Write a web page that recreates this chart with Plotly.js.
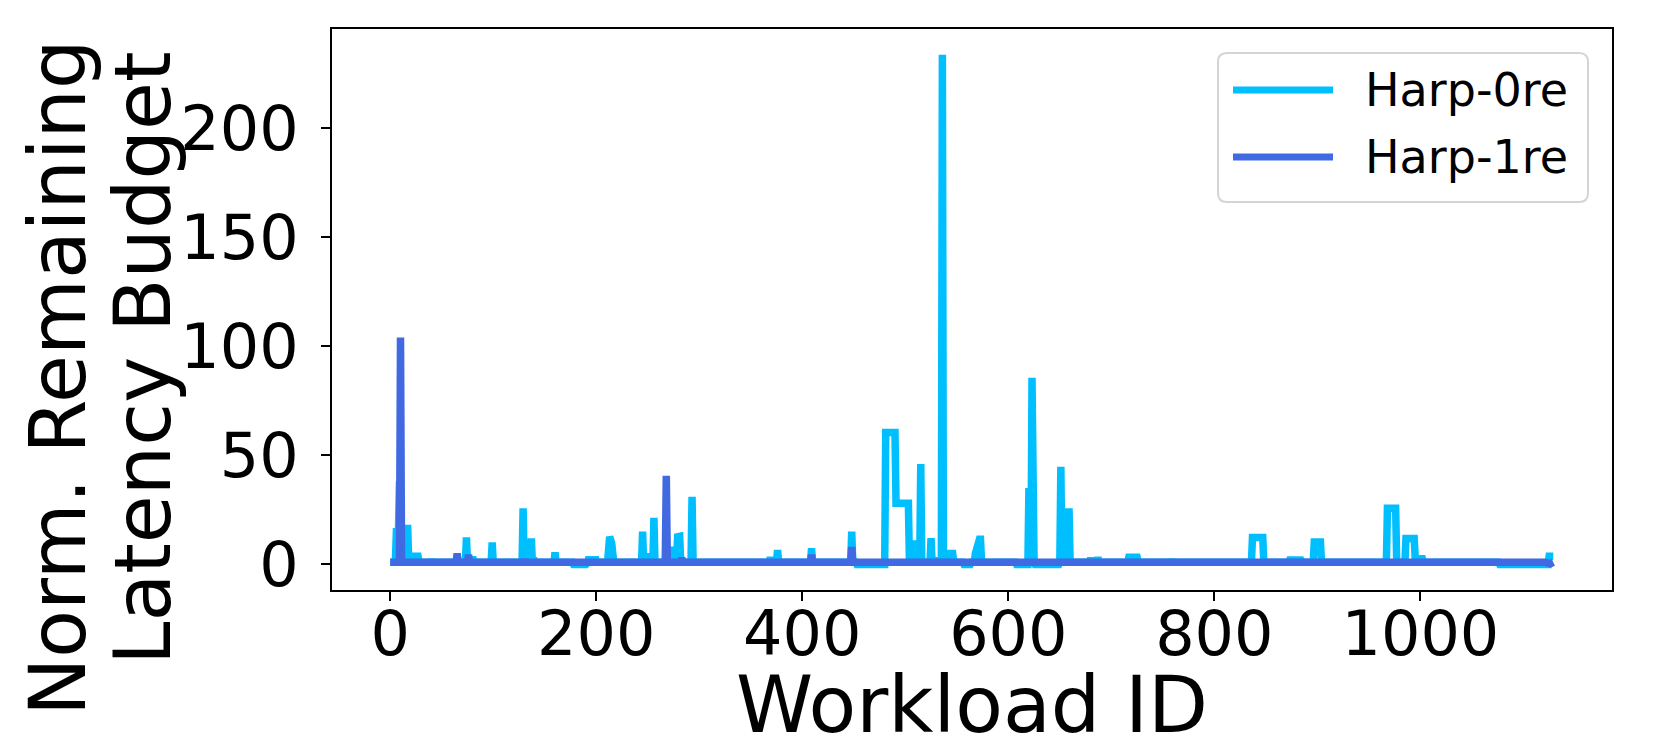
<!DOCTYPE html>
<html>
<head>
<meta charset="utf-8">
<script src="https://cdn.plot.ly/plotly-3.0.1.min.js"></script>
<style>
  html, body { margin: 0; padding: 0; background: #fff; }
  #chart { width: 1661px; height: 738px; }
</style>
</head>
<body>
<div id="chart"></div>
<script>
// ---- Data (vertices) ----
const seriesNames = ["Harp-0re", "Harp-1re"];

const harp0X = [0, 5, 6, 8, 9, 10, 17, 18,
  23, 24, 27, 28, 39, 40, 41, 73, 74, 75, 79, 80, 81, 88, 89, 90, 98, 99, 100,
  128, 129, 130, 136, 137, 138, 139, 140, 159, 160, 161, 172, 173, 174,
  177, 178, 190, 192, 193, 194, 198, 199, 200, 209, 210, 211, 213, 215, 217,
  224, 225, 226, 244, 245, 246, 249, 250, 251, 255, 256, 257,
  274, 275, 276, 277, 278, 279, 281, 282, 290, 291, 292, 293, 294,
  368, 369, 370, 375, 376, 377, 408, 409, 410, 411, 412, 432, 433, 434, 447, 448, 449,
  452, 453, 480, 481, 490, 491, 503, 504, 509, 510, 511, 514, 515, 516,
  524, 525, 526, 529, 530, 531, 535, 536, 537, 540, 541, 546, 547,
  556, 557, 563, 564, 567, 568, 572, 573, 574, 575, 576, 600, 601, 602,
  607, 608, 619, 620, 621, 622, 623, 624, 625, 626, 649, 650, 651, 652, 655, 656, 659, 660,
  679, 680, 681, 686, 687, 688, 716, 717, 725, 726, 758, 759, 760,
  836, 837, 847, 848, 872, 873, 884, 885, 896, 897, 903, 904,
  967, 968, 976, 977, 985, 986, 994, 995, 1002, 1003,
  1076, 1077, 1119, 1124, 1125, 1129];

const harp0Y = [1, 1, 15, 15, 38, 16.5, 16.5, 1,
  1, 3.8, 3.8, 1, 1, 2.3, 1, 1, 12.4, 1, 1, 3.5, 1, 1, 2, 1, 1, 10.1, 1,
  1, 25.7, 1, 1, 11.9, 1, 3, 1, 1, 5.5, 1, 1, 0, 1,
  1, 0, 0, 1, 3.5, 1, 1, 3.5, 1, 1, 0, 1, 12.7, 9.7, 1,
  1, 2, 1, 1, 15, 1, 1, 5, 1, 1, 21.4, 1,
  1, 8.1, 1, 0, 1, 12.7, 12.9, 1, 1, 0, 1, 31, 1,
  1, 3.3, 1, 1, 6.6, 1, 1, 7.4, 1, 0, 1, 1, 2, 1, 1, 15, 1,
  1, 0, 0, 60.5, 60.5, 28, 28, 1, 1, 11, 1, 1, 46, 1,
  1, 12, 1, 1, 3, 1, 1, 233.5, 1, 1, 5, 5, 1,
  1, 0, 0, 1, 1, 5, 11.5, 11.5, 1, 0, 1, 1, 0, 1,
  1, 0, 0, 35, 1, 1, 85.5, 1, 1, 0, 0, 1, 44.8, 1, 1, 24, 24, 1,
  1, 3, 1, 1, 3.3, 1, 1, 3.3, 3.3, 1, 1, 2.3, 1,
  1, 12.4, 12.4, 1, 1, 2, 2, 1, 1, 10.3, 10.3, 1,
  1, 25.7, 25.7, 1, 1, 11.9, 11.9, 2.6, 2.6, 1,
  1, 0, 0, 0, 3.8, 3.8];

const harp1X = [0, 9, 10, 11, 64, 65, 66, 75, 76, 77, 129, 130, 131,
  191, 192, 193, 267, 268, 269, 282, 283, 284, 368, 369, 370,
  408, 409, 410, 447, 448, 449, 1121, 1123, 1126, 1129];

const harp1Y = [1, 1, 104, 1, 1, 5, 1, 1, 4.5, 1, 1, 2.3, 1,
  1, 0, 1, 1, 40.6, 1, 1, 3, 1, 1, 2, 1,
  1, 4.4, 1, 1, 8, 1, 1, 0.3, 0.3, 1];

const xTickVals = [0, 200, 400, 600, 800, 1000];
const yTickVals = [0, 50, 100, 150, 200];
const xTitle = "Workload ID";
const yTitleLines = ["Norm. Remaining", "Latency Budget"];
const colors = ["#00BFFF", "#4169E1"];

// ---- Plot geometry helpers (pixels -> paper) ----
const L = 332, R = 1612, T = 29, B = 590;
const W = R - L, H = B - T;
const px = v => (v - L) / W;
const py = v => (B - v) / H;

const FONT = "DejaVu Sans, Verdana, sans-serif";

const traces = [
  { x: harp0X, y: harp0Y, name: seriesNames[0], type: "scatter", mode: "lines",
    line: { color: colors[0], width: 7.5 }, showlegend: false, hoverinfo: "x+y" },
  { x: harp1X, y: harp1Y, name: seriesNames[1], type: "scatter", mode: "lines",
    line: { color: colors[1], width: 7.5 }, showlegend: false, hoverinfo: "x+y" }
];

// legend box (rounded) in paper coords
const lx0 = px(1218), lx1 = px(1588), ly0 = py(202), ly1 = py(53);
const rx = 9 / W, ry = 9 / H;
const legendPath =
  `M ${lx0 + rx},${ly1} L ${lx1 - rx},${ly1} Q ${lx1},${ly1} ${lx1},${ly1 - ry} ` +
  `L ${lx1},${ly0 + ry} Q ${lx1},${ly0} ${lx1 - rx},${ly0} ` +
  `L ${lx0 + rx},${ly0} Q ${lx0},${ly0} ${lx0},${ly0 + ry} ` +
  `L ${lx0},${ly1 - ry} Q ${lx0},${ly1} ${lx0 + rx},${ly1} Z`;

const legendRows = [90, 157];

const shapes = [
  { type: "path", xref: "paper", yref: "paper", path: legendPath,
    fillcolor: "rgba(255,255,255,0.8)", line: { color: "#d4d4d4", width: 2 }, layer: "above" }
];
legendRows.forEach((yy, i) => {
  shapes.push({ type: "line", xref: "paper", yref: "paper",
    x0: px(1233), x1: px(1333), y0: py(yy), y1: py(yy),
    line: { color: colors[i], width: 7 }, layer: "above" });
});

const annotations = [];
seriesNames.forEach((nm, i) => {
  annotations.push({ text: nm, xref: "paper", yref: "paper",
    x: px(1363), y: py(legendRows[i]), xanchor: "left", yanchor: "middle",
    showarrow: false, font: { family: FONT, size: 46, color: "#000" } });
});
annotations.push({ text: yTitleLines[0], xref: "paper", yref: "paper",
  x: 0, xshift: 58 - L, y: py(378), xanchor: "center", yanchor: "middle", textangle: -90,
  showarrow: false, font: { family: FONT, size: 78, color: "#000" } });
annotations.push({ text: yTitleLines[1], xref: "paper", yref: "paper",
  x: 0, xshift: 143 - L, y: py(358), xanchor: "center", yanchor: "middle", textangle: -90,
  showarrow: false, font: { family: FONT, size: 78, color: "#000" } });
// x-axis title
annotations.push({ text: xTitle, xref: "paper", yref: "paper",
  x: 0.5, y: py(705), xanchor: "center", yanchor: "middle",
  showarrow: false, font: { family: FONT, size: 78, color: "#000" } });

const layout = {
  width: 1661, height: 738,
  margin: { l: L, r: 1661 - R, t: T, b: 738 - B, pad: 0 },
  paper_bgcolor: "#fff", plot_bgcolor: "#fff",
  showlegend: false,
  font: { family: FONT, color: "#000" },
  xaxis: {
    range: [-56.5, 1186], tickvals: xTickVals, ticktext: xTickVals.map(String),
    ticks: "outside", ticklen: 9, tickwidth: 2, tickcolor: "#000",
    ticklabelstandoff: -20,
    showline: true, linecolor: "#000", linewidth: 2, mirror: true,
    showgrid: false, zeroline: false,
    tickfont: { family: FONT, size: 62, color: "#000" }
  },
  yaxis: {
    range: [-11.7, 245.3], tickvals: yTickVals, ticktext: yTickVals.map(String),
    ticks: "outside", ticklen: 9, tickwidth: 2, tickcolor: "#000",
    ticklabelstandoff: 10,
    showline: true, linecolor: "#000", linewidth: 2, mirror: true,
    showgrid: false, zeroline: false,
    tickfont: { family: FONT, size: 62, color: "#000" }
  },
  shapes: shapes,
  annotations: annotations
};

Plotly.newPlot("chart", traces, layout, { displayModeBar: false, staticPlot: true });
</script>
</body>
</html>
